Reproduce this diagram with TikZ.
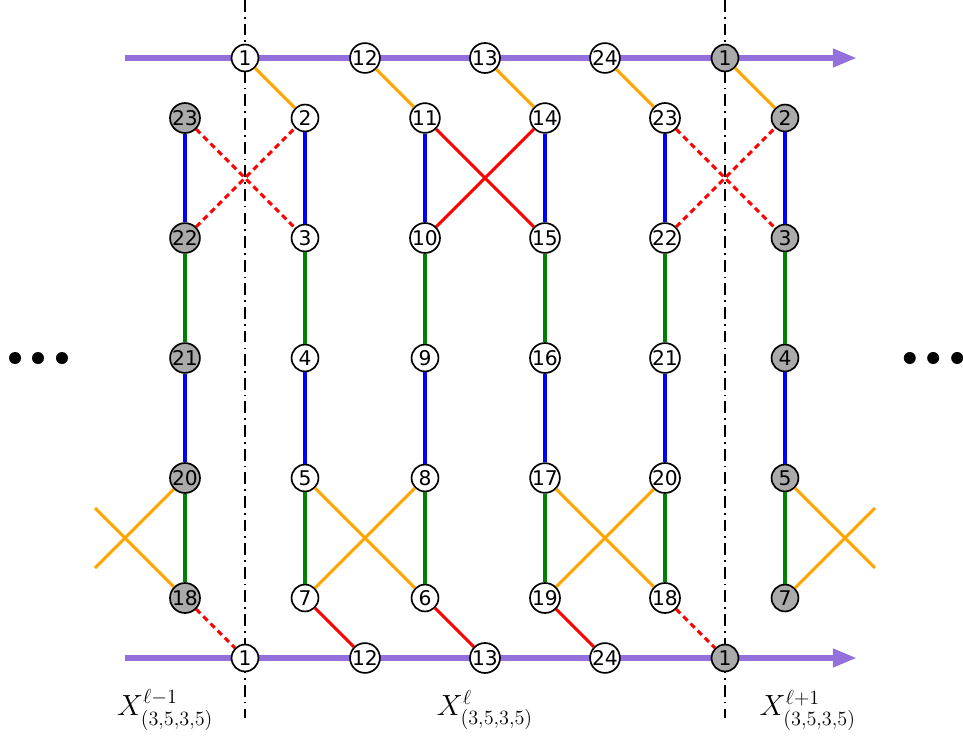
\documentclass[tikz,border=0pt]{standalone}
\usepackage{amsmath,amssymb}
\usepackage{fontspec}
\setsansfont{DejaVu Sans}
\usetikzlibrary{arrows.meta}
\definecolor{railpurple}{RGB}{147,112,219}
\definecolor{vgray}{RGB}{170,170,170}
\definecolor{eorange}{RGB}{255,165,0}
\definecolor{egreen}{RGB}{0,128,0}
\tikzstyle{vtx}=[circle,draw,line width=1pt,fill=white,inner sep=0pt,minimum size=0.56cm,font=\sffamily\fontsize{12}{14}\selectfont]
\tikzstyle{gvtx}=[vtx,fill=vgray]
\tikzstyle{rail}=[railpurple,line width=3.5pt,-{Triangle[length=0.5cm,width=0.36cm]}]
\tikzstyle{cut}=[line width=1pt,dash pattern=on 7pt off 3pt on 1pt off 3pt]
\tikzstyle{oedge}=[eorange,line width=1.8pt]
\tikzstyle{bedge}=[blue,line width=1.8pt]
\tikzstyle{gedge}=[egreen,line width=1.8pt]
\tikzstyle{redge}=[red,line width=1.8pt]
\tikzstyle{rdash}=[red,line width=1.8pt,dash pattern=on 3.5pt off 2.5pt]

\begin{document}
\begin{tikzpicture}[x=1.25cm,y=1.25cm]
  \useasboundingbox (-0.0833,-0.45) rectangle (15.967,11.967);

  % cuts and rails
  \coordinate (c1t) at (4,11.967);  \coordinate (c1b) at (4,0);
  \coordinate (c2t) at (12,11.967); \coordinate (c2b) at (12,0);
  \draw[cut] (c1t) -- (c1b);
  \draw[cut] (c2t) -- (c2b);
  \coordinate (rtl) at (2,11); \coordinate (rtr) at (14.2,11);
  \coordinate (rbl) at (2,1);  \coordinate (rbr) at (14.2,1);
  \draw[rail] (rtl) -- (rtr);
  \draw[rail] (rbl) -- (rbr);

  % top rail
  \node[vtx]  (t1)  at (4,11)  {1};
  \node[vtx]  (t12) at (6,11)  {12};
  \node[vtx]  (t13) at (8,11)  {13};
  \node[vtx]  (t24) at (10,11) {24};
  \node[gvtx] (t1n) at (12,11) {1};
  % bottom rail
  \node[vtx]  (b1)  at (4,1)  {1};
  \node[vtx]  (b12) at (6,1)  {12};
  \node[vtx]  (b13) at (8,1)  {13};
  \node[vtx]  (b24) at (10,1) {24};
  \node[gvtx] (b1n) at (12,1) {1};

  % previous block
  \node[gvtx] (p23) at (3,10) {23};
  \node[gvtx] (p22) at (3,8)  {22};
  \node[gvtx] (p21) at (3,6)  {21};
  \node[gvtx] (p20) at (3,4)  {20};
  \node[gvtx] (p18) at (3,2)  {18};
  % current block
  \node[vtx] (v2)  at (5,10) {2};
  \node[vtx] (v3)  at (5,8)  {3};
  \node[vtx] (v4)  at (5,6)  {4};
  \node[vtx] (v5)  at (5,4)  {5};
  \node[vtx] (v7)  at (5,2)  {7};
  \node[vtx] (v11) at (7,10) {11};
  \node[vtx] (v10) at (7,8)  {10};
  \node[vtx] (v9)  at (7,6)  {9};
  \node[vtx] (v8)  at (7,4)  {8};
  \node[vtx] (v6)  at (7,2)  {6};
  \node[vtx] (v14) at (9,10) {14};
  \node[vtx] (v15) at (9,8)  {15};
  \node[vtx] (v16) at (9,6)  {16};
  \node[vtx] (v17) at (9,4)  {17};
  \node[vtx] (v19) at (9,2)  {19};
  \node[vtx] (v23) at (11,10) {23};
  \node[vtx] (v22) at (11,8)  {22};
  \node[vtx] (v21) at (11,6)  {21};
  \node[vtx] (v20) at (11,4)  {20};
  \node[vtx] (v18) at (11,2)  {18};
  % next block
  \node[gvtx] (n2) at (13,10) {2};
  \node[gvtx] (n3) at (13,8)  {3};
  \node[gvtx] (n4) at (13,6)  {4};
  \node[gvtx] (n5) at (13,4)  {5};
  \node[gvtx] (n7) at (13,2)  {7};

  % loose ends of the outer crossings
  \coordinate (lx1) at (1.5,2.5); \coordinate (lx2) at (1.5,3.5);
  \coordinate (rx1) at (14.5,2.5); \coordinate (rx2) at (14.5,3.5);

  \path (t1) edge[oedge] (v2)
        (t12) edge[oedge] (v11)
        (t13) edge[oedge] (v14)
        (t24) edge[oedge] (v23)
        (t1n) edge[oedge] (n2);
  \path (p23) edge[bedge] (p22) (v2) edge[bedge] (v3)
        (v11) edge[bedge] (v10) (v14) edge[bedge] (v15)
        (v23) edge[bedge] (v22) (n2) edge[bedge] (n3);
  \path (p23) edge[rdash] (v3) (p22) edge[rdash] (v2)
        (v23) edge[rdash] (n3) (v22) edge[rdash] (n2);
  \path (v11) edge[redge] (v15) (v10) edge[redge] (v14);
  \path (p22) edge[gedge] (p21) (v3) edge[gedge] (v4)
        (v10) edge[gedge] (v9) (v15) edge[gedge] (v16)
        (v22) edge[gedge] (v21) (n3) edge[gedge] (n4);
  \path (p21) edge[bedge] (p20) (v4) edge[bedge] (v5)
        (v9) edge[bedge] (v8) (v16) edge[bedge] (v17)
        (v21) edge[bedge] (v20) (n4) edge[bedge] (n5);
  \path (p20) edge[gedge] (p18) (v5) edge[gedge] (v7)
        (v8) edge[gedge] (v6) (v17) edge[gedge] (v19)
        (v20) edge[gedge] (v18) (n5) edge[gedge] (n7);
  \path (v5) edge[oedge] (v6) (v7) edge[oedge] (v8)
        (v17) edge[oedge] (v18) (v19) edge[oedge] (v20)
        (p20) edge[oedge] (lx1) (p18) edge[oedge] (lx2)
        (n5) edge[oedge] (rx1) (n7) edge[oedge] (rx2);
  \path (v7) edge[redge] (b12) (v6) edge[redge] (b13)
        (v19) edge[redge] (b24);
  \path (p18) edge[rdash] (b1) (v18) edge[rdash] (b1n);

  % dots
  \foreach \x in {0.167,0.55,0.95,15.08,15.47,15.87}
    \fill (\x,6) circle (0.1);

  % block labels
  \node (xprev) at (2.67,0.13) {\LARGE $X^{\ell-1}_{(3,5,3,5)}$};
  \node (xcur)  at (8,0.13)    {\LARGE $X^{\ell}_{(3,5,3,5)}$};
  \node (xnext) at (13.38,0.13) {\LARGE $X^{\ell+1}_{(3,5,3,5)}$};
\end{tikzpicture}
\end{document}
